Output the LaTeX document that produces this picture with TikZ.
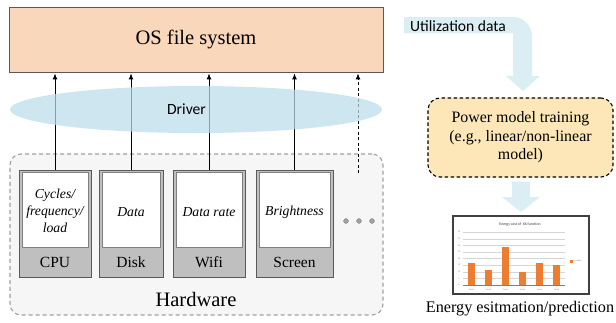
\documentclass[tikz,border=0pt]{standalone}
\usepackage{fontspec}
\setmainfont{Liberation Serif}
\newfontfamily\sansc{Carlito}
\usetikzlibrary{arrows.meta,shapes.geometric}

\definecolor{osfill}{HTML}{F9D7BA}
\definecolor{edgegray}{HTML}{5A5A5A}
\definecolor{driverblue}{HTML}{BBDDE9}
\definecolor{hwfill}{HTML}{F6F6F6}
\definecolor{hwedge}{HTML}{A0A0A0}
\definecolor{devgray}{HTML}{BFBFBF}
\definecolor{bandblue}{HTML}{DAEEF3}
\definecolor{pmfill}{HTML}{FDE7B8}
\definecolor{barorange}{HTML}{ED7D31}
\definecolor{gridgray}{HTML}{D6D6D6}

\tikzset{
  osbox/.style={draw=edgegray, fill=osfill, line width=0.8pt, inner sep=0pt,
    font=\fontsize{20.5}{24}\selectfont},
  hwbox/.style={draw=hwedge, fill=hwfill, dashed, dash pattern=on 4pt off 3pt,
    line width=1.1pt, rounded corners=11pt, inner sep=0pt},
  devbox/.style={draw=edgegray, fill=devgray, line width=0.9pt, inner sep=0pt,
    minimum height=107pt},
  devface/.style={draw=gray, fill=white, line width=0.6pt, inner sep=0pt,
    minimum height=75pt},
  devtext/.style={align=center, inner sep=0pt,
    font=\fontsize{13.7}{17}\selectfont\itshape},
  devlabel/.style={inner sep=0pt, font=\fontsize{15.5}{18}\selectfont},
  arr/.style={-{Latex[length=6pt,width=5pt]}, line width=0.9pt, black},
  dotmark/.style={circle, fill=devgray!85!black, draw=gray, line width=0.4pt,
    minimum size=4.8pt, inner sep=0pt},
  pmbox/.style={draw=black, fill=pmfill, dashed, dash pattern=on 3.5pt off 2.5pt,
    line width=1.1pt, rounded corners=12pt, align=center, inner sep=0pt,
    font=\fontsize{15.9}{18.5}\selectfont},
  charttext/.style={inner sep=0pt, font=\sansc\fontsize{2.2}{2.5}\selectfont, text=gray},
}

\begin{document}
\begin{tikzpicture}[x=1pt,y=-1pt]
\useasboundingbox (0,0) rectangle (616,322);

% file system layer
\node[osbox, minimum width=374pt, minimum height=65pt] (os) at (196,39.5) {OS file system};

% hardware group
\node[hwbox, minimum width=373pt, minimum height=161pt] (hw) at (196.5,234.5) {};
\node[inner sep=0pt, font=\fontsize{20.5}{24}\selectfont] (hwlabel) at (196,299) {Hardware};

% devices: grey frame, white reading area, name below
\node[devbox, minimum width=72pt] (cpu) at (55,223.5) {};
\node[devface, minimum width=66pt] (cpuface) at (55,209.5) {};
\node[devtext] (cputext) at (55,211) {Cycles/\\frequency/\\load};
\node[devlabel] (cpulabel) at (55,262.5) {CPU};

\node[devbox, minimum width=64pt] (disk) at (131,223.5) {};
\node[devface, minimum width=58pt] (diskface) at (131,209.5) {};
\node[devtext] (disktext) at (131,212) {Data};
\node[devlabel] (disklabel) at (131,262.5) {Disk};

\node[devbox, minimum width=72pt] (wifi) at (209,223.5) {};
\node[devface, minimum width=66pt] (wififace) at (209,209.5) {};
\node[devtext] (wifitext) at (209,212) {Data rate};
\node[devlabel] (wifilabel) at (209,262.5) {Wifi};

\node[devbox, minimum width=77pt] (screen) at (294.5,223.5) {};
\node[devface, minimum width=71pt] (screenface) at (294.5,209.5) {};
\node[devtext] (screentext) at (294.5,212) {Brightness};
\node[devlabel] (screenlabel) at (294.5,262.5) {Screen};

\node[dotmark] (d1) at (346,221) {};
\node[dotmark] (d2) at (359,221) {};
\node[dotmark] (d3) at (372,221) {};

% readings passed up to the file system
\coordinate (more) at (358,173);
\draw[arr] (cpu.north) -- ([yshift=-1pt]cpu.north |- os.south);
\draw[arr] (disk.north) -- ([yshift=-1pt]disk.north |- os.south);
\draw[arr] (wifi.north) -- ([yshift=-1pt]wifi.north |- os.south);
\draw[arr] (screen.north) -- ([yshift=-1pt]screen.north |- os.south);
\draw[arr, dashed, dash pattern=on 3pt off 2.5pt] (more) -- ([yshift=-1pt]more |- os.south);

% driver layer, translucent over the arrows
\node[ellipse, fill=driverblue, fill opacity=0.72, minimum width=372pt,
  minimum height=47pt, inner sep=0pt] (drv) at (196,109.5) {};
\node[inner sep=0pt, font=\sansc\fontsize{15.6}{18}\selectfont] (drvlabel) at (186.5,109) {Driver};

% block arrow: utilization data into training
\fill[bandblue] (404,17) -- (513,17) arc[start angle=90, end angle=0, radius=19pt]
  -- (532,76) -- (540,76) -- (523,91) -- (506,76) -- (513,76) -- (513,33) -- (404,33) -- cycle;
\node[anchor=west, inner sep=0pt, font=\sansc\fontsize{15.6}{18}\selectfont] (util) at (410,26.5) {Utilization data};

% model training
\node[pmbox, minimum width=185pt, minimum height=79pt] (pm) at (520.5,137.5)
  {Power model training\\(e.g., linear/non-linear\\model)};

% block arrow: model to estimation
\fill[bandblue] (512,181.5) -- (530,181.5) -- (530,197) -- (540,197) -- (521,212)
  -- (502,197) -- (512,197) -- cycle;

% bar chart of estimated energy
\node[draw=black!75, line width=1.5pt, fill=white, minimum width=136pt,
  minimum height=78pt, inner sep=0pt] (chart) at (521,255) {};
\foreach \i in {0,...,8}{
  \draw[gridgray, line width=0.5pt] (463,{285-\i*6.6}) -- (565,{285-\i*6.6});
  \pgfmathtruncatemacro{\tick}{\i*5}
  \node[charttext] at (459,{285-\i*6.6}) {\tick};
}
\draw[gray, line width=0.4pt] (463,285) -- (565,285);
\foreach \v [count=\k] in {17,11,29,10,17,15}{
  \fill[barorange] ({463+17*(\k-0.5)-3.5},285) rectangle ++(7,{-\v*1.32});
  \node[charttext] at ({463+17*(\k-0.5)},289.5) {Func\k};
}
\node[inner sep=0pt, font=\sansc\fontsize{3.8}{4}\selectfont, text=black!80] (ctitle) at (520,225)
  {Energy cost of\ \ XX function};
\fill[barorange] (569.5,259.5) rectangle ++(3,3);
\node[charttext, anchor=west] (clegend) at (573.5,261) {Function};

\node[inner sep=0pt, font=\fontsize{16.2}{19}\selectfont] (est) at (520,309) {Energy esitmation/prediction};
\end{tikzpicture}
\end{document}
